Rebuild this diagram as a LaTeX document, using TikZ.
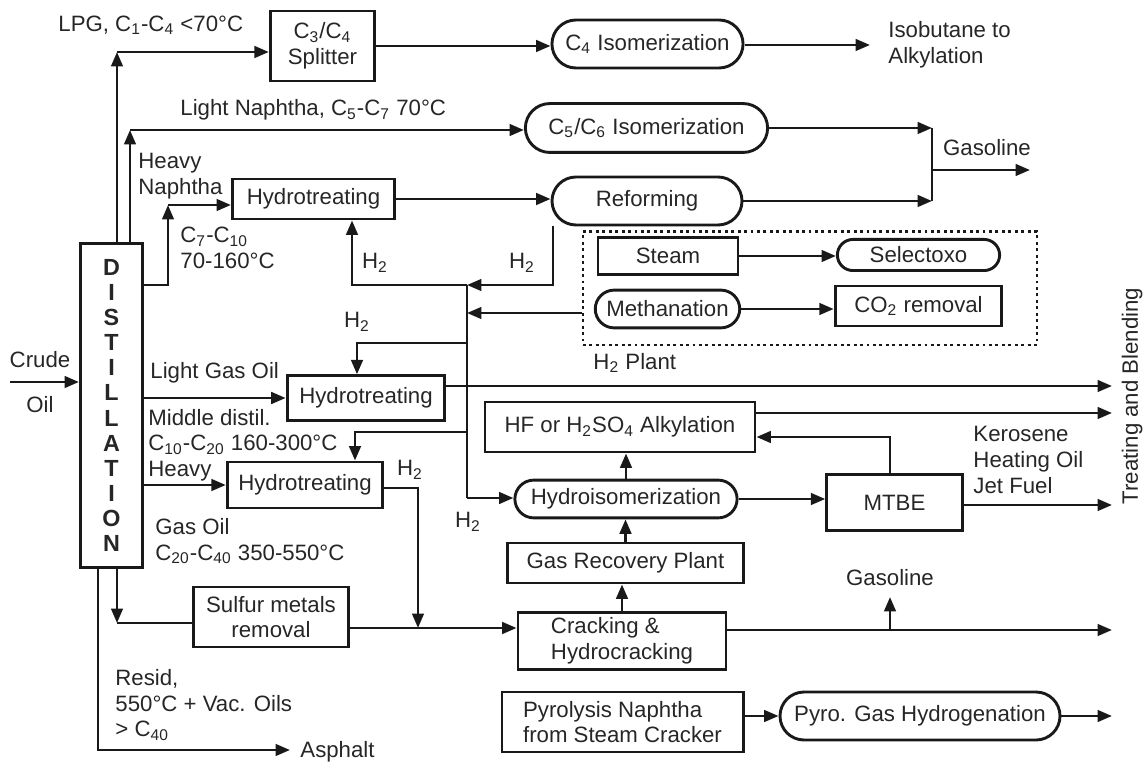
\documentclass[tikz,border=0pt]{standalone}
\usepackage{fontspec}
\setmainfont{Liberation Sans}
\usetikzlibrary{arrows.meta}
\newcommand{\sub}[1]{\textsubscript{#1}}
\newcommand{\Htwo}{H\sub{2}}

\begin{document}
\begin{tikzpicture}[
  x=0.45pt, y=-0.45pt,
  every node/.style={font=\fontsize{10}{11.5}\selectfont, text=black!85},
  unitbox/.style={rectangle, draw=black!90, line width=1.3pt, inner sep=2pt, align=center},
  roundbox/.style={rectangle, draw=black!90, line width=1.3pt, inner sep=2pt, rounded corners=#1},
  roundbox/.default=10pt,
  arr/.style={-{Triangle[length=6.5pt,width=5.2pt]}, line width=1.25pt, black!90},
  flow/.style={line width=1.25pt, black!90},
  lbl/.style={anchor=west, align=left, inner sep=0pt},
  plantbox/.style={draw=black!90, line width=1.3pt, dash pattern=on 1.3pt off 1.6pt, inner sep=0pt}
]
\useasboundingbox (0,0) rectangle (1146,764);

% Distillation column
\node[unitbox, minimum width=28pt, minimum height=146pt, font=\bfseries\fontsize{10.5}{11.3}\selectfont]
  (dist) at (111.5,405.5) {D\\I\\S\\T\\I\\L\\L\\A\\T\\I\\O\\N};

% Top units
\node[unitbox, minimum width=47pt, minimum height=31.5pt] (split) at (322.5,46) {C\sub{3}/C\sub{4}\\Splitter};
\node[roundbox=10.8pt, minimum width=86pt, minimum height=21.6pt] (c4iso) at (647.5,44) {C\sub{4} Isomerization};
\node[roundbox=11pt, minimum width=109pt, minimum height=22pt] (c56iso) at (646.5,128) {C\sub{5}/C\sub{6} Isomerization};
\node[unitbox, minimum width=73pt, minimum height=18pt] (ht1) at (313.5,199) {Hydrotreating};
\node[roundbox=10.8pt, minimum width=85.5pt, minimum height=21.6pt] (ref) at (647,201) {Reforming};

% H2 plant
\node[plantbox, minimum width=204.3pt, minimum height=50.9pt] (h2p) at (810,288.5) {};
\node[unitbox, minimum width=63pt, minimum height=16.7pt] (steam) at (668,256) {Steam};
\node[roundbox=7pt, minimum width=73pt, minimum height=14pt] (selox) at (918.5,255) {Selectoxo};
\node[roundbox=8.5pt, minimum width=65pt, minimum height=17pt] (meth) at (667.5,309) {Methanation};
\node[unitbox, minimum width=75pt, minimum height=18pt] (co2) at (918.5,306) {CO\sub{2} removal};

% Middle units
\node[unitbox, minimum width=71pt, minimum height=20pt] (ht2) at (366,398) {Hydrotreating};
\node[unitbox, minimum width=121.5pt, minimum height=22.5pt] (hf) at (620,427) {HF or H\sub{2}SO\sub{4} Alkylation};
\node[unitbox, minimum width=70pt, minimum height=20.7pt] (ht3) at (305,485) {Hydrotreating};
\node[roundbox=8.5pt, minimum width=100pt, minimum height=17pt] (hiso) at (626,499) {Hydroisomerization};
\node[unitbox, minimum width=61pt, minimum height=25pt] (mtbe) at (894.5,502.5) {MTBE};

% Lower units
\node[unitbox, minimum width=106pt, minimum height=18pt] (grp) at (625.5,563) {Gas Recovery Plant};
\node[unitbox, minimum width=70pt, minimum height=27pt] (sulf) at (271,617) {Sulfur metals\\removal};
\node[unitbox, minimum width=93.6pt, minimum height=26pt, align=left] (crack) at (622,641) {Cracking \&\\Hydrocracking};
\node[unitbox, minimum width=108.5pt, minimum height=27pt, align=left] (pyro) at (622.5,722) {Pyrolysis Naphtha\\from Steam Cracker};
\node[roundbox=10.8pt, minimum width=126pt, minimum height=21.6pt] (pgh) at (920,716) {Pyro. Gas Hydrogenation};

% Crude feed
\coordinate (crude) at (10,382);
\draw[arr] (crude) -- (crude -| dist.west);
\node (crudelbl) at (40,360) {Crude};
\node (oillbl) at (40,405) {Oil};

% LPG and light naphtha
\coordinate (lpg) at (117,52);
\draw[arr] (lpg |- dist.north) -- (lpg);
\draw[arr] (lpg) -- (lpg -| split.west);
\node[lbl] (lpglbl) at (58,25) {LPG, C\sub{1}-C\sub{4} <70°C};
\draw[arr] (split.east) -- (split.east -| c4iso.west);
\coordinate (isob) at (870,45);
\draw[arr] (c4iso.east |- isob) -- (isob);
\node[lbl] (isoblbl) at (888,45) {Isobutane to\\Alkylation};

\coordinate (ln) at (130,130);
\draw[arr] (ln |- dist.north) -- (ln);
\draw[arr] (ln) -- (ln -| c56iso.west);
\node[lbl] (lnlbl) at (180,110) {Light Naphtha, C\sub{5}-C\sub{7} 70°C};
\node[lbl] (hnlbl) at (138,176) {Heavy\\Naphtha};

% Heavy naphtha to reforming
\coordinate (hn0) at (168,285);
\coordinate (hn) at (168,205);
\draw[arr] (hn0 -| dist.east) -- (hn0) -- (hn);
\draw[arr] (hn) -- (hn -| ht1.west);
\node[lbl] (c7lbl) at (180,248) {C\sub{7}-C\sub{10}\\70-160°C};
\draw[arr] (ht1.east) -- (ht1.east -| ref.west);

% Gasoline pool
\coordinate (gas) at (932,170);
\draw[arr] (c56iso.east) -- (c56iso.east -| gas);
\draw[arr] (ref.east) -- (ref.east -| gas);
\draw[flow] (gas |- c56iso.east) -- (gas |- ref.east);
\coordinate (gasout) at (1030,170);
\draw[arr] (gas) -- (gasout);
\node (gaslbl) at (987,148) {Gasoline};

% Hydrogen header
\coordinate (t1) at (467,285);
\coordinate (t2) at (467,313);
\coordinate (t3) at (467,343);
\coordinate (t4) at (467,432);
\coordinate (t5) at (467,498);
\coordinate (rh) at (553,285);
\draw[arr] (rh |- ref.south) -- (rh) -- (t1);
\coordinate (h1) at (352,285);
\draw[arr] (t1) -- (h1) -- (h1 |- ht1.south);
\draw[arr] (t2 -| h2p.west) -- (t2);
\draw[flow] (t1) -- (t5);
\draw[arr] (t5) -- (t5 -| hiso.west);
\coordinate (h2) at (357,343);
\draw[arr] (t3) -- (h2) -- (h2 |- ht2.north);
\coordinate (h3) at (355,432);
\draw[arr] (t4) -- (h3) -- (h3 |- ht3.north);
\node (h2lbla) at (375,263) {\Htwo};
\node (h2lblb) at (522,263) {\Htwo};
\node (h2lblc) at (357,322) {\Htwo};
\node (h2lbld) at (410,470) {\Htwo};
\node (h2lble) at (468,522) {\Htwo};

% Steam reformer train
\draw[arr] (steam.east) -- (steam.east -| selox.west);
\draw[arr] (meth.east) -- (meth.east -| co2.west);
\node[lbl] (h2plbl) at (593,363) {\Htwo\ Plant};

% Gas oil cuts
\draw[arr] (ht2.west -| dist.east) -- (ht2.west);
\node[lbl] (lgolbl) at (150,373) {Light Gas Oil};
\node[lbl] (mdlbl) at (148,445) {Middle distil.\\C\sub{10}-C\sub{20} 160-300°C\\Heavy};
\draw[arr] (ht3.west -| dist.east) -- (ht3.west);
\node[lbl] (golbl) at (155,541) {Gas Oil\\C\sub{20}-C\sub{40} 350-550°C};
\coordinate (tb1) at (1112,386);
\draw[arr] (ht2.east |- tb1) -- (tb1);
\coordinate (d1) at (418,488);
\coordinate (d2) at (418,628);
\draw[arr] (d1 -| ht3.east) -- (d1) -- (d2);

% Bottoms to cracking
\coordinate (s1) at (117,623);
\draw[arr] (s1 |- dist.south) -- (s1);
\draw[flow] (s1) -- (s1 -| sulf.west);
\draw[arr] (sulf.east |- d2) -- (d2 -| crack.west);
\draw[arr] (crack.north) -- (crack.north |- grp.south);
\draw[arr] (grp.north) -- (grp.north |- hiso.south);
\draw[arr] (hiso.north) -- (hiso.north |- hf.south);
\coordinate (tb4) at (1112,630);
\draw[arr] (crack.east |- tb4) -- (tb4);
\coordinate (g2) at (890,630);
\coordinate (g3) at (890,597);
\draw[arr] (g2) -- (g3);
\node (gaslbl2) at (890,578) {Gasoline};

% Alkylation and MTBE
\draw[arr] (hiso.east) -- (hiso.east -| mtbe.west);
\coordinate (m1) at (890,437);
\draw[arr] (m1 |- mtbe.north) -- (m1) -- (m1 -| hf.east);
\coordinate (tb2) at (1112,413);
\draw[arr] (hf.east |- tb2) -- (tb2);
\coordinate (tb3) at (1112,505);
\draw[arr] (mtbe.east |- tb3) -- (tb3);
\node[lbl] (kerolbl) at (973,460) {Kerosene\\Heating Oil\\Jet Fuel};
\node[rotate=90] (tblbl) at (1132,396) {Treating and Blending};

% Pyrolysis gasoline
\draw[arr] (pgh.west -| pyro.east) -- (pgh.west);
\coordinate (pgout) at (1112,716);
\draw[arr] (pgh.east) -- (pgout);

% Resid
\coordinate (r1) at (98,750);
\coordinate (r2) at (290,750);
\draw[arr] (r1 |- dist.south) -- (r1) -- (r2);
\node[lbl] (residlbl) at (115,705) {Resid,\\550°C + Vac. Oils\\> C\sub{40}};
\node[lbl] (asphlbl) at (300,752) {Asphalt};

\end{tikzpicture}
\end{document}
